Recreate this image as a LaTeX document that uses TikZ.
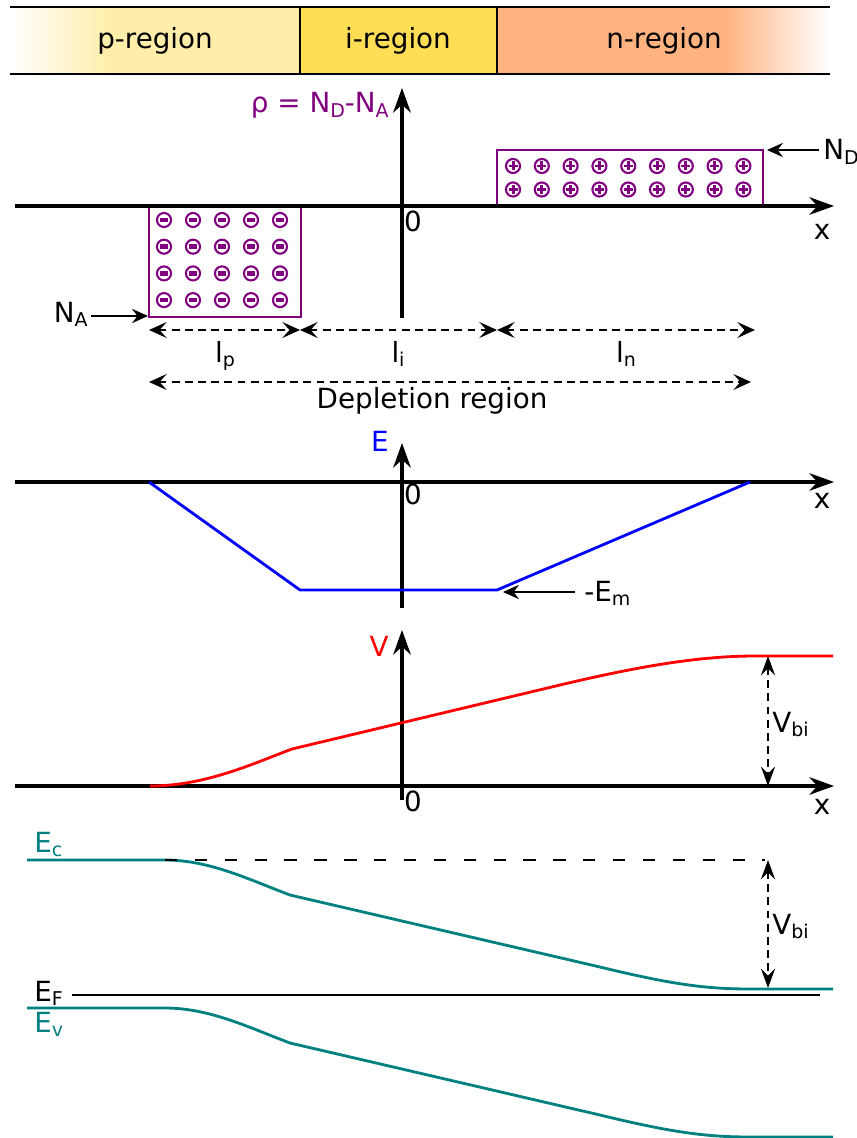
\documentclass[tikz,border=0pt]{standalone}
\usepackage{fontspec}
\setmainfont{DejaVu Sans}
\usetikzlibrary{arrows.meta}
\definecolor{pcol}{HTML}{FFEEAA}
\definecolor{icol}{HTML}{FFDD55}
\definecolor{ncol}{HTML}{FFB380}
\definecolor{dpurple}{HTML}{800080}
\definecolor{dteal}{HTML}{008080}
\newcommand{\lsub}[1]{\raisebox{-2.8pt}{\fontsize{10.8pt}{10.8pt}\selectfont #1}}
\tikzset{
  axisline/.style={line width=1.8pt,-{Stealth[length=14pt,width=10pt,inset=4.5pt]}},
  lbl/.style={font=\fontsize{15.8pt}{18pt}\selectfont, inner sep=0pt},
  chargebox/.style={draw=dpurple, line width=1.2pt},
  dimarrow/.style={line width=1.6pt, dash pattern=on 4.5pt off 3pt,
     {Stealth[length=10pt,width=9pt,inset=4pt]}-{Stealth[length=10pt,width=9pt,inset=4pt]}},
  vbiarrow/.style={line width=1.6pt, dash pattern=on 4.5pt off 3pt,
     {Stealth[length=11pt,width=8pt,inset=4pt]}-{Stealth[length=11pt,width=8pt,inset=4pt]}},
  pointer/.style={line width=1.5pt,-{Stealth[length=9pt,width=8pt,inset=3pt]}},
  curve/.style={line width=1.6pt},
}
\begin{document}
\begin{tikzpicture}[x=0.02cm,y=-0.02cm]
\useasboundingbox (0,0) rectangle (857,1138);

% ---------- top bar ----------
\fill[pcol] (110,7) rectangle (300,74);
\shade[left color=white, right color=pcol] (10,7) rectangle (110,74);
\fill[icol] (300,7) rectangle (497,74);
\fill[ncol] (497,7) rectangle (725,74);
\shade[left color=ncol, right color=white] (725,7) rectangle (830,74);
\draw[line width=1.7pt] (10,7) -- (830,7);
\draw[line width=1.7pt] (10,74) -- (830,74);
\draw[line width=1.3pt] (300,7) -- (300,74);
\draw[line width=1.3pt] (497,7) -- (497,74);
\node[lbl, anchor=base] (preg) at (155,49) {p-region};
\node[lbl, anchor=base] (ireg) at (398,49) {i-region};
\node[lbl, anchor=base] (nreg) at (664,49) {n-region};

% ---------- charge density ----------
\draw[chargebox] (149,206) rectangle (301,317);
\draw[chargebox] (497,206) rectangle (763,150);
\foreach \i in {0,...,4} \foreach \j in {0,...,3} {
  \draw[dpurple, line width=1.2pt] (164+29*\i,220+26.7*\j) circle[radius=4pt];
  \draw[dpurple, line width=2.6pt] (164+29*\i-4,220+26.7*\j) -- ++(8,0);
}
\foreach \i in {0,...,8} \foreach \j in {0,1} {
  \draw[dpurple, line width=1.2pt] (513+28.8*\i,166+23.5*\j) circle[radius=4pt];
  \draw[dpurple, line width=1.7pt] (513+28.8*\i-4.5,166+23.5*\j) -- ++(9,0);
  \draw[dpurple, line width=1.7pt] (513+28.8*\i,166+23.5*\j-4.5) -- ++(0,9);
}
\coordinate (rxa) at (15,206);
\coordinate (rxb) at (834,206);
\coordinate (rya) at (402,318);
\coordinate (ryb) at (402,88);
\draw[axisline] (rxa) -- (rxb);
\draw[axisline] (rya) -- (ryb);
\node[lbl, anchor=base east, text=dpurple] (rholbl) at (389,113) {ρ = N\lsub{D}-N\lsub{A}};
\node[lbl, anchor=base] (rzero) at (413,232) {0};
\node[lbl, anchor=base] (rx) at (822,240) {x};

\node[lbl, anchor=base west] (ndlbl) at (823,160) {N\lsub{D}};
\coordinate (ndtip) at (767,150);
\coordinate (ndtail) at (819,150);
\draw[pointer] (ndtail) -- (ndtip);
\node[lbl, anchor=base east] (nalbl) at (88,322) {N\lsub{A}};
\coordinate (natip) at (148,316);
\coordinate (natail) at (91,316);
\draw[pointer] (natail) -- (natip);

% dimension arrows
\coordinate (d0) at (149,330);
\coordinate (d1) at (300,330);
\coordinate (d2) at (497,330);
\coordinate (d3) at (755,330);
\draw[dimarrow] (d0) -- (d1);
\draw[dimarrow] (d1) -- (d2);
\draw[dimarrow] (d2) -- (d3);
\node[lbl, anchor=base] (lp) at (225,362) {l\lsub{p}};
\node[lbl, anchor=base] (li) at (398,362) {l\lsub{i}};
\node[lbl, anchor=base] (ln) at (626,362) {l\lsub{n}};
\coordinate (dl0) at (149,382);
\coordinate (dl1) at (751,382);
\draw[dimarrow] (dl0) -- (dl1);
\node[lbl, anchor=base] (depl) at (432,408) {Depletion region};

% ---------- electric field ----------
\coordinate (exa) at (15,482);
\coordinate (exb) at (834,482);
\coordinate (eya) at (402,608);
\coordinate (eyb) at (402,443);
\draw[axisline] (exa) -- (exb);
\draw[axisline] (eya) -- (eyb);
\node[lbl, anchor=base, text=blue] (elbl) at (380,451) {E};
\node[lbl, anchor=base] (ezero) at (413,504) {0};
\node[lbl, anchor=base] (ex) at (822,508) {x};
\coordinate (e1) at (149,482);
\coordinate (e2) at (300,590);
\coordinate (e3) at (497,590);
\coordinate (e4) at (750,482);
\draw[blue, curve] (e1) -- (e2) -- (e3) -- (e4);
\coordinate (emtip) at (503,592);
\coordinate (emtail) at (575,592);
\draw[pointer] (emtail) -- (emtip);
\node[lbl, anchor=base west] (emlbl) at (584,601) {-E\lsub{m}};

% ---------- potential ----------
\coordinate (vxa) at (15,786);
\coordinate (vxb) at (834,786);
\coordinate (vya) at (402,800);
\coordinate (vyb) at (402,630);
\draw[axisline] (vxa) -- (vxb);
\draw[axisline] (vya) -- (vyb);
\node[lbl, anchor=base, text=red] (vlbl) at (379,656) {V};
\node[lbl, anchor=base] (vzero) at (413,811) {0};
\node[lbl, anchor=base] (vx) at (822,814) {x};
\draw[red, curve] (150,786) .. controls (205,786) and (252,764) .. (292,749)
  -- (560,685) .. controls (640,666) and (700,656) .. (755,656) -- (833,656);
\coordinate (vbt) at (768,656);
\coordinate (vbb) at (768,786);
\draw[vbiarrow] (vbt) -- (vbb);
\node[lbl, anchor=base west] (vbilbl) at (772,732) {V\lsub{bi}};

% ---------- band diagram ----------
\draw[dteal, curve] (27,860) -- (165,860) .. controls (210,860) and (250,880) .. (290,895)
  -- (600,967) .. controls (670,984) and (705,989) .. (750,989) -- (833,989);
\draw[dteal, curve] (27,1008) -- (165,1008) .. controls (210,1008) and (250,1028) .. (290,1043)
  -- (600,1115) .. controls (670,1132) and (705,1137) .. (750,1137) -- (833,1137);
\coordinate (eca) at (165,860);
\coordinate (ecb) at (765,860);
\draw[line width=1.6pt, dash pattern=on 7pt off 10pt] (eca) -- (ecb);
\coordinate (efa) at (72,995);
\coordinate (efb) at (820,995);
\draw[line width=1.5pt] (efa) -- (efb);
\coordinate (bbt) at (768,860);
\coordinate (bbb) at (768,988);
\draw[vbiarrow] (bbt) -- (bbb);
\node[lbl, anchor=base west] (vbilbl2) at (772,934) {V\lsub{bi}};
\node[lbl, anchor=base west, text=dteal] (eclbl) at (34,852) {E\lsub{c}};
\node[lbl, anchor=base west] (eflbl) at (34,1001) {E\lsub{F}};
\node[lbl, anchor=base west, text=dteal] (evlbl) at (34,1032) {E\lsub{v}};
\end{tikzpicture}
\end{document}
